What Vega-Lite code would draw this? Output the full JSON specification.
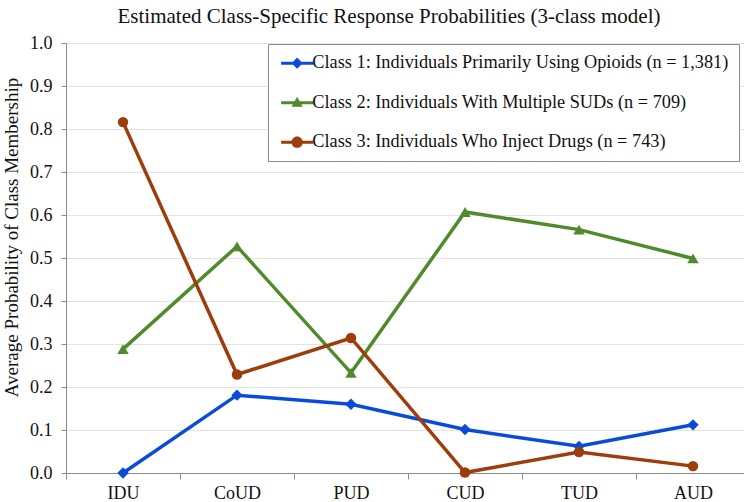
{
  "$schema": "https://vega.github.io/schema/vega-lite/v6.json",
  "width": 684,
  "height": 430,
  "autosize": {"type": "none"},
  "padding": {"left": 66, "top": 43, "right": -6, "bottom": 29},
  "background": "white",
  "title": {
    "text": "Estimated Class-Specific Response Probabilities (3-class model)",
    "font": "Liberation Serif",
    "fontSize": 21,
    "fontWeight": "normal",
    "color": "#111111",
    "anchor": "middle",
    "frame": "group",
    "offset": 7,
    "dx": -19
  },
  "config": {
    "font": "Liberation Serif",
    "view": {"stroke": null},
    "axis": {
      "labelFont": "Liberation Serif",
      "titleFont": "Liberation Serif",
      "labelFontSize": 18,
      "titleFontSize": 19,
      "labelColor": "#111111",
      "titleColor": "#111111",
      "titleFontWeight": "normal",
      "domainColor": "#8c8c8c",
      "tickColor": "#8c8c8c",
      "tickSize": 5,
      "gridColor": "#e3e3e3",
      "gridWidth": 1
    }
  },
  "data": {
    "values": [
      {"cat": "IDU", "cls": "Class 1: Individuals Primarily Using Opioids (n = 1,381)", "p": 0.0},
      {"cat": "CoUD", "cls": "Class 1: Individuals Primarily Using Opioids (n = 1,381)", "p": 0.181},
      {"cat": "PUD", "cls": "Class 1: Individuals Primarily Using Opioids (n = 1,381)", "p": 0.160},
      {"cat": "CUD", "cls": "Class 1: Individuals Primarily Using Opioids (n = 1,381)", "p": 0.101},
      {"cat": "TUD", "cls": "Class 1: Individuals Primarily Using Opioids (n = 1,381)", "p": 0.062},
      {"cat": "AUD", "cls": "Class 1: Individuals Primarily Using Opioids (n = 1,381)", "p": 0.112},
      {"cat": "IDU", "cls": "Class 2: Individuals With Multiple SUDs (n = 709)", "p": 0.288},
      {"cat": "CoUD", "cls": "Class 2: Individuals With Multiple SUDs (n = 709)", "p": 0.527},
      {"cat": "PUD", "cls": "Class 2: Individuals With Multiple SUDs (n = 709)", "p": 0.233},
      {"cat": "CUD", "cls": "Class 2: Individuals With Multiple SUDs (n = 709)", "p": 0.607},
      {"cat": "TUD", "cls": "Class 2: Individuals With Multiple SUDs (n = 709)", "p": 0.566},
      {"cat": "AUD", "cls": "Class 2: Individuals With Multiple SUDs (n = 709)", "p": 0.499},
      {"cat": "IDU", "cls": "Class 3: Individuals Who Inject Drugs (n = 743)", "p": 0.816},
      {"cat": "CoUD", "cls": "Class 3: Individuals Who Inject Drugs (n = 743)", "p": 0.229},
      {"cat": "PUD", "cls": "Class 3: Individuals Who Inject Drugs (n = 743)", "p": 0.314},
      {"cat": "CUD", "cls": "Class 3: Individuals Who Inject Drugs (n = 743)", "p": 0.001},
      {"cat": "TUD", "cls": "Class 3: Individuals Who Inject Drugs (n = 743)", "p": 0.049},
      {"cat": "AUD", "cls": "Class 3: Individuals Who Inject Drugs (n = 743)", "p": 0.016}
    ]
  },
  "encoding": {
    "x": {
      "field": "cat",
      "type": "nominal",
      "sort": ["IDU", "CoUD", "PUD", "CUD", "TUD", "AUD"],
      "scale": {"type": "band", "paddingInner": 0, "paddingOuter": 0},
      "axis": {
        "title": null,
        "labelAngle": 0,
        "tickBand": "extent",
        "ticks": true,
        "tickSize": 6,
        "labelPadding": 5,
        "labelBaseline": "top",
        "grid": false
      }
    },
    "y": {
      "field": "p",
      "type": "quantitative",
      "scale": {"domain": [0, 1], "nice": false, "zero": true},
      "axis": {
        "title": "Average Probability of Class Membership",
        "values": [0, 0.1, 0.2, 0.3, 0.4, 0.5, 0.6, 0.7, 0.8, 0.9, 1.0],
        "format": ".1f",
        "labelPadding": 9,
        "grid": true,
        "titleX": -49,
        "titleY": 194,
        "titleBaseline": "alphabetic",
        "titleAlign": "center",
        "titleAngle": 270
      }
    },
    "color": {
      "field": "cls",
      "type": "nominal",
      "scale": {
        "domain": [
          "Class 1: Individuals Primarily Using Opioids (n = 1,381)",
          "Class 2: Individuals With Multiple SUDs (n = 709)",
          "Class 3: Individuals Who Inject Drugs (n = 743)"
        ],
        "range": ["#0A4CD8", "#508A2C", "#9C3D0B"]
      },
      "legend": {
        "title": null,
        "orient": "none",
        "legendX": 202,
        "legendY": 1,
        "padding": 10,
        "fillColor": "white",
        "strokeColor": "#8c8c8c",
        "labelFont": "Liberation Serif",
        "labelFontSize": 18.3,
        "labelColor": "#111111",
        "labelLimit": 600,
        "symbolSize": 256,
        "symbolOffset": 10,
        "labelOffset": 6,
        "rowPadding": 20.5,
        "encode": {
          "symbols": {
            "update": {
              "shape": {"signal": "indexof(datum.value, 'Class 1') === 0 ? 'M-2,-0.19H-0.51L0,-0.7L0.51,-0.19H2V0.19H0.51L0,0.7L-0.51,0.19H-2Z' : indexof(datum.value, 'Class 2') === 0 ? 'M-2,-0.19H-0.314L0,-0.75L0.314,-0.19H2V0.19H0.526L0.7,0.5H-0.7L-0.526,0.19H-2Z' : 'M-2,-0.19H2V0.19H-2Z M0.7,0A0.7,0.7,0,1,1,-0.7,0A0.7,0.7,0,1,1,0.7,0Z'"},
              "size": {"value": 256},
              "fill": {"scale": "color", "field": "value"},
              "stroke": {"value": "transparent"},
              "strokeWidth": {"value": 0},
              "opacity": {"value": 1}
            }
          }
        }
      }
    }
  },
  "layer": [
    {
      "mark": {"type": "line", "strokeWidth": 3.5},
      "encoding": {}
    },
    {
      "transform": [{"filter": "indexof(datum.cls, 'Class 1') === 0"}],
      "mark": {"type": "point", "filled": true, "opacity": 1, "size": 130, "shape": "diamond"},
      "encoding": {}
    },
    {
      "transform": [{"filter": "indexof(datum.cls, 'Class 2') === 0"}],
      "mark": {"type": "point", "filled": true, "opacity": 1, "size": 130, "shape": "triangle-up"},
      "encoding": {}
    },
    {
      "transform": [{"filter": "indexof(datum.cls, 'Class 3') === 0"}],
      "mark": {"type": "point", "filled": true, "opacity": 1, "size": 110, "shape": "circle"},
      "encoding": {}
    }
  ]
}
